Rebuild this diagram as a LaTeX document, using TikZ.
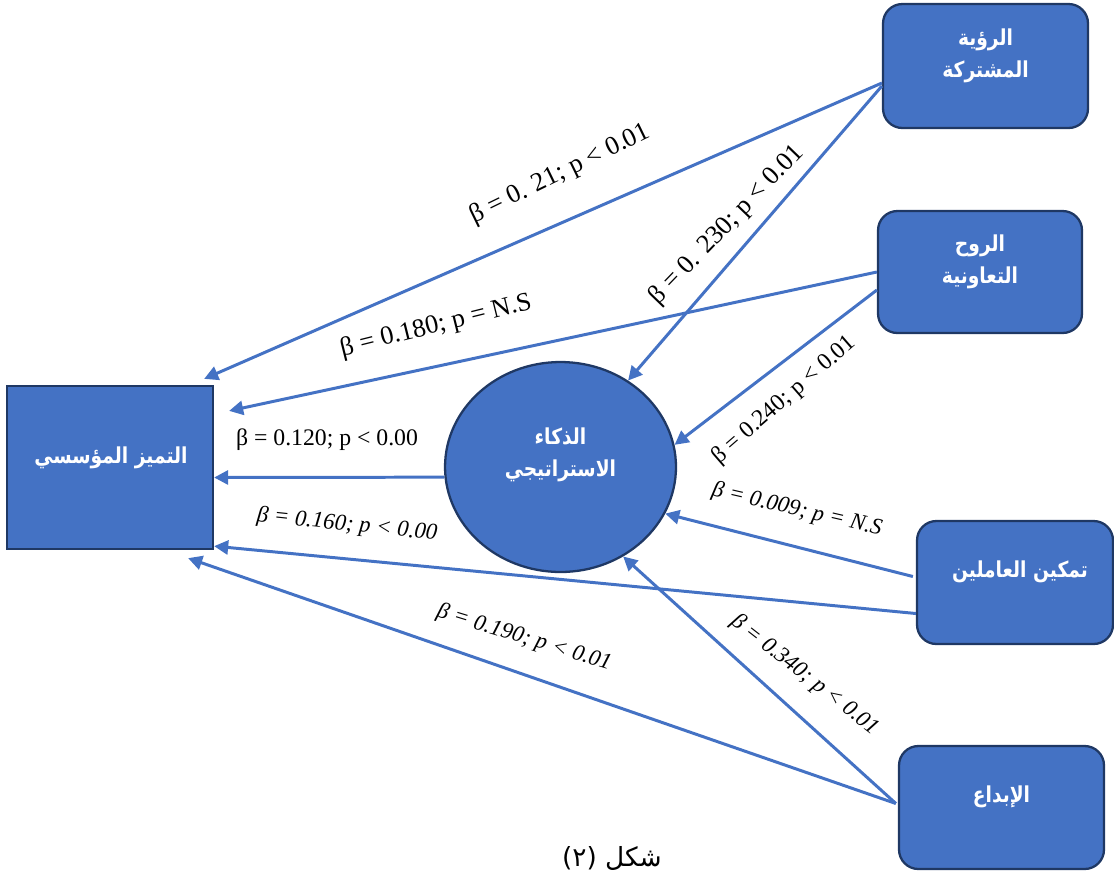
\documentclass[tikz,border=0pt]{standalone}
\usepackage{fontspec}
\setmainfont{Liberation Serif}
\newfontfamily\arabicfont[Script=Arabic, FakeStretch=0.85]{DejaVu Sans}
\newfontfamily\captionfont[Script=Arabic]{DejaVu Sans}
\TeXXeTstate=1
\usetikzlibrary{shapes.geometric,arrows.meta,calc}
\definecolor{fillblue}{HTML}{4472C4}
\definecolor{edgeblue}{HTML}{1F3864}
\begin{document}
\begin{tikzpicture}[x=0.02cm,y=-0.02cm,
  box/.style={draw=edgeblue, fill=fillblue, line width=1.3pt, rounded corners=11pt, inner sep=0pt},
  sqbox/.style={draw=edgeblue, fill=fillblue, line width=1.3pt, inner sep=0pt},
  circ/.style={ellipse, draw=edgeblue, fill=fillblue, line width=1.3pt, inner sep=0pt},
  atext/.style={text=white, font=\arabicfont\bfseries\fontsize{12.5}{18}\selectfont, align=center, inner sep=0pt},
  arr/.style={draw=fillblue, line width=1.7pt, -{Triangle[length=8pt,width=8pt]}},
  labbig/.style={font=\fontsize{15}{17}\selectfont, inner sep=1pt},
  lab/.style={font=\fontsize{13.5}{15}\selectfont, inner sep=1pt},
  labi/.style={font=\itshape\fontsize{13}{15}\selectfont, inner sep=1pt}]
\useasboundingbox (0,0) rectangle (1114,873);
% nodes
\node[box, minimum width=4.1cm, minimum height=2.48cm] (sv) at (985.5,66) {};
\node[atext] (svt) at (985.5,56) {\beginR الرؤية\endR\\\beginR المشتركة\endR};
\node[box, minimum width=4.08cm, minimum height=2.44cm] (co) at (980,272) {};
\node[atext] (cot) at (980,262) {\beginR الروح\endR\\\beginR التعاونية\endR};
\node[box, minimum width=3.92cm, minimum height=2.46cm] (em) at (1015,582.5) {};
\node[atext] (emt) at (1020,572) {\beginR تمكين العاملين\endR};
\node[box, minimum width=4.1cm, minimum height=2.46cm] (cr) at (1001.5,807.5) {};
\node[atext] (crt) at (1001.5,797) {\beginR الإبداع\endR};
\node[sqbox, minimum width=4.12cm, minimum height=3.26cm] (ex) at (110,467.5) {};
\node[atext] (ext) at (111,458) {\beginR التميز المؤسسي\endR};
\node[circ, minimum width=4.62cm, minimum height=4.2cm] (ci) at (560.5,467) {};
\node[atext] (cit) at (560.5,455) {\beginR الذكاء\endR\\\beginR الاستراتيجي\endR};
% connectors
\draw[arr] ($(sv.west)+(0,17)$) -- ($(ex.north east)+(-10,-6)$);
\draw[arr] ($(sv.west)+(0,20)$) -- (ci.52);
\draw[arr] (co.west) -- ($(ex.north east)+(15,26)$);
\draw[arr] ($(co.west)+(0,18)$) -- (ci.11);
\draw[arr] (ci.185) -- ($(ex.east)+(0,10)$);
\draw[arr] ($(em.west)+(0,31)$) -- ($(ex.south east)+(0,-4)$);
\draw[arr] ($(em.west)+(-3,-6)$) -- (ci.-24);
\draw[arr] ($(cr.west)+(-2,-4)$) -- ($(ex.south east)+(-26,8)$);
\draw[arr] ($(cr.west)+(-2,-4)$) -- (ci.-55);
% labels
\node[labbig, rotate=26] (l1) at (560,174) {β = 0. 21; p < 0.01};
\node[labbig, rotate=46] (l2) at (727,225) {β = 0. 230; p < 0.01};
\node[labbig, rotate=14] (l3) at (436,326) {β = 0.180; p = N.S};
\node[lab, rotate=41] (l4) at (784,400) {β = 0.240; p < 0.01};
\node[lab] (l5) at (327,440) {β = 0.120; p < 0.00};
\node[labi, rotate=-6] (l6) at (347,525) {β = 0.160; p < 0.00};
\node[labi, rotate=-13] (l7) at (797,510) {β = 0.009; p = N.S};
\node[labi, rotate=-17] (l8) at (524,638) {β = 0.190; p < 0.01};
\node[labi, rotate=-38] (l9) at (805,675) {β = 0.340; p < 0.01};
% caption
\node[font=\captionfont\fontsize{15}{18}\selectfont, inner sep=0pt] (cap) at (612,858) {\beginR شكل (٢)\endR};
\end{tikzpicture}
\end{document}
